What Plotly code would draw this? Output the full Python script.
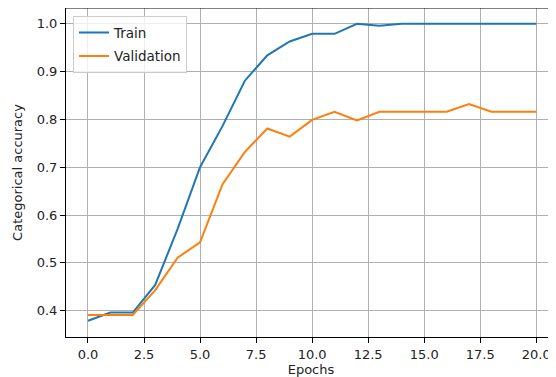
import plotly.graph_objects as go

epochs = list(range(21))
train_acc = [0.379, 0.396, 0.396, 0.454, 0.571, 0.700, 0.786, 0.881, 0.934, 0.963,
             0.979, 0.979, 1.000, 0.996, 1.000, 1.000, 1.000, 1.000, 1.000, 1.000, 1.000]
val_acc = [0.391, 0.391, 0.391, 0.443, 0.511, 0.543, 0.664, 0.732, 0.781, 0.764,
           0.799, 0.816, 0.798, 0.816, 0.816, 0.816, 0.816, 0.832, 0.816, 0.816, 0.816]
x_ticks = [0, 2.5, 5, 7.5, 10, 12.5, 15, 17.5, 20]
y_ticks = [0.4, 0.5, 0.6, 0.7, 0.8, 0.9, 1.0]

FONT = "DejaVu Sans"

fig = go.Figure()
fig.add_trace(go.Scatter(x=epochs, y=train_acc, mode="lines", name="Train",
                         legendgroup="a",
                         line=dict(color="#1f77b4", width=2)))
fig.add_trace(go.Scatter(x=epochs, y=val_acc, mode="lines", name="Validation",
                         legendgroup="b",
                         line=dict(color="#ff7f0e", width=2)))

axis_common = dict(
    showgrid=True, gridcolor="#b0b0b0", gridwidth=1,
    showline=True, linecolor="#000000", linewidth=1,
    ticks="outside", ticklen=5, tickwidth=1, tickcolor="#000000",
    zeroline=False, automargin=False,
    tickfont=dict(family=FONT, size=13, color="#222222"),
    title_font=dict(family=FONT, size=13, color="#222222"),
)

# the page body has an 8px margin, so the figure is sized to end at the window edge
fig.update_layout(
    width=548, height=369,
    margin=dict(l=58, r=0, t=0, b=40),
    paper_bgcolor="white", plot_bgcolor="white",
    font=dict(family=FONT, size=13, color="#222222"),
    showlegend=True,
    legend=dict(
        x=0.0143, y=0.975, xanchor="left", yanchor="top",
        bgcolor="rgba(255,255,255,0.8)", bordercolor="#cccccc", borderwidth=1,
        font=dict(family=FONT, size=13.5, color="#222222"),
        itemwidth=30, tracegroupgap=3,
    ),
    xaxis=dict(
        range=[-0.98, 20.88], tickvals=x_ticks, tickformat=".1f",
        mirror=False, title=dict(text="Epochs", standoff=1),
        **axis_common,
    ),
    yaxis=dict(
        range=[0.345, 1.033], tickvals=y_ticks, tickformat=".1f",
        mirror=False, title=dict(text="Categorical accuracy", standoff=11),
        **axis_common,
    ),
)
# top spine
fig.add_shape(type="line", xref="paper", yref="paper", x0=0, x1=1, y0=1, y1=1,
              line=dict(color="#000000", width=1))

fig.write_html("out.html")
